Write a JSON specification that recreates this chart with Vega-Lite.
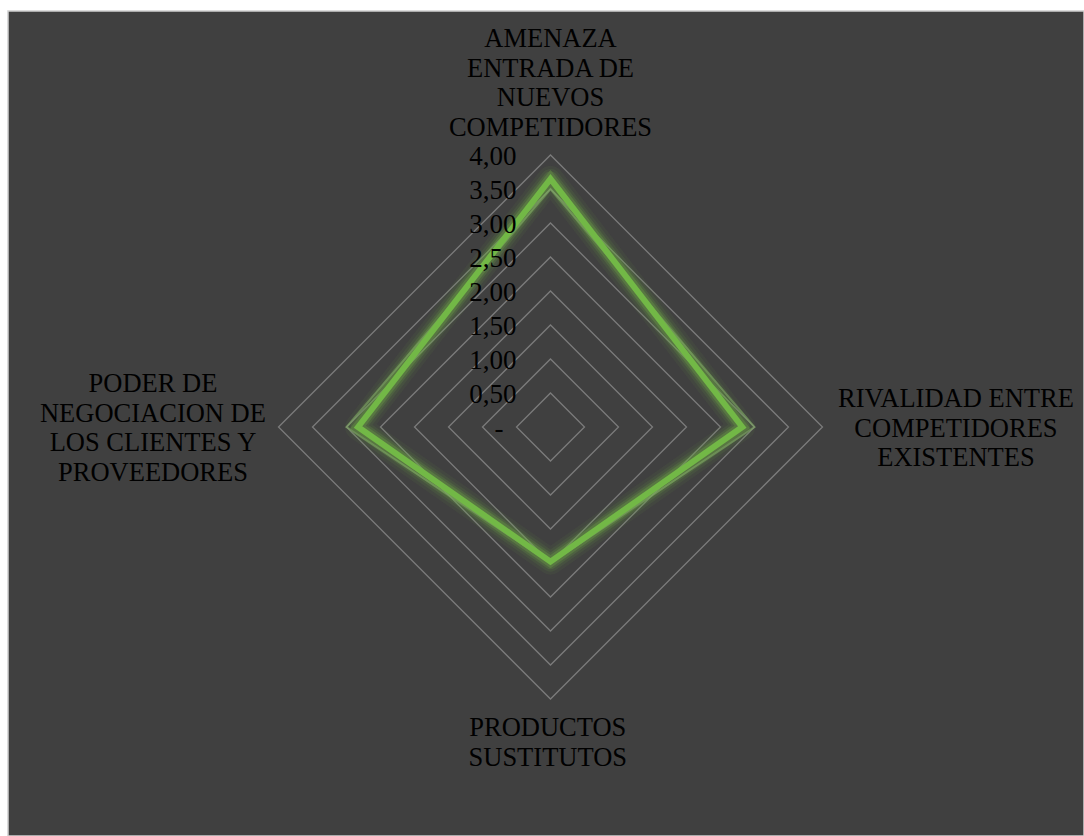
{
  "$schema": "https://vega.github.io/schema/vega-lite/v6.json",
  "width": 1076,
  "height": 825,
  "autosize": "none",
  "padding": {"left": 8, "top": 11, "right": 0, "bottom": 0},
  "background": "#ffffff",
  "config": {"view": {"fill": "#404040", "stroke": "#d0d0d0", "strokeWidth": 1.5}},
  "datasets": {
    "scores": [
      {"axis": "AMENAZA\nENTRADA DE\nNUEVOS\nCOMPETIDORES", "order": 0, "series": "A", "value": 3.65},
      {"axis": "RIVALIDAD ENTRE\nCOMPETIDORES\nEXISTENTES", "order": 1, "series": "A", "value": 2.82},
      {"axis": "PRODUCTOS\nSUSTITUTOS", "order": 2, "series": "A", "value": 1.98},
      {"axis": "PODER DE\nNEGOCIACION DE\nLOS CLIENTES Y\nPROVEEDORES", "order": 3, "series": "A", "value": 2.83},
      {"axis": "AMENAZA\nENTRADA DE\nNUEVOS\nCOMPETIDORES", "order": 0, "series": "B", "value": 3.5},
      {"axis": "RIVALIDAD ENTRE\nCOMPETIDORES\nEXISTENTES", "order": 1, "series": "B", "value": 3.0},
      {"axis": "PRODUCTOS\nSUSTITUTOS", "order": 2, "series": "B", "value": 2.0},
      {"axis": "PODER DE\nNEGOCIACION DE\nLOS CLIENTES Y\nPROVEEDORES", "order": 3, "series": "B", "value": 3.0}
    ],
    "levels": [
      {"level": 0, "corners": [0, 1, 2, 3]},
      {"level": 0.5, "corners": [0, 1, 2, 3]},
      {"level": 1, "corners": [0, 1, 2, 3]},
      {"level": 1.5, "corners": [0, 1, 2, 3]},
      {"level": 2, "corners": [0, 1, 2, 3]},
      {"level": 2.5, "corners": [0, 1, 2, 3]},
      {"level": 3, "corners": [0, 1, 2, 3]},
      {"level": 3.5, "corners": [0, 1, 2, 3]},
      {"level": 4, "corners": [0, 1, 2, 3]}
    ]
  },
  "layer": [
    {
      "data": {"name": "levels"},
      "transform": [
        {"filter": "datum.level > 0"},
        {"flatten": ["corners"], "as": ["k"]},
        {"calculate": "datum.level * sin(datum.k * PI / 2)", "as": "px"},
        {"calculate": "datum.level * cos(datum.k * PI / 2)", "as": "py"}
      ],
      "mark": {"type": "line", "interpolate": "linear-closed", "stroke": "#7b7b7b", "strokeWidth": 1.3},
      "encoding": {
        "x": {"field": "px", "type": "quantitative", "scale": {"domain": [-7.978, 7.846], "nice": false, "zero": false}, "axis": null},
        "y": {"field": "py", "type": "quantitative", "scale": {"domain": [-6.015, 6.118], "nice": false, "zero": false}, "axis": null},
        "detail": {"field": "level"},
        "order": {"field": "k"}
      }
    },
    {
      "data": {"name": "scores"},
      "transform": [
        {"filter": "datum.series == 'A'"},
        {"calculate": "datum.value * sin(datum.order * PI / 2)", "as": "px"},
        {"calculate": "datum.value * cos(datum.order * PI / 2)", "as": "py"}
      ],
      "layer": [
        {"mark": {"type": "line", "interpolate": "linear-closed", "stroke": "#70ad47", "strokeOpacity": 0.07, "strokeWidth": 26, "strokeJoin": "round"}},
        {"mark": {"type": "line", "interpolate": "linear-closed", "stroke": "#70ad47", "strokeOpacity": 0.1, "strokeWidth": 20, "strokeJoin": "round"}},
        {"mark": {"type": "line", "interpolate": "linear-closed", "stroke": "#70ad47", "strokeOpacity": 0.18, "strokeWidth": 15, "strokeJoin": "round"}},
        {"mark": {"type": "line", "interpolate": "linear-closed", "stroke": "#70ad47", "strokeOpacity": 0.3, "strokeWidth": 11, "strokeJoin": "miter"}}
      ],
      "encoding": {
        "x": {"field": "px", "type": "quantitative"},
        "y": {"field": "py", "type": "quantitative"},
        "order": {"field": "order"}
      }
    },
    {
      "data": {"name": "scores"},
      "transform": [
        {"filter": "datum.series == 'B'"},
        {"calculate": "datum.value * sin(datum.order * PI / 2)", "as": "px"},
        {"calculate": "datum.value * cos(datum.order * PI / 2)", "as": "py"}
      ],
      "mark": {"type": "line", "interpolate": "linear-closed", "stroke": "#80a865", "strokeOpacity": 0.6, "strokeWidth": 2},
      "encoding": {
        "x": {"field": "px", "type": "quantitative"},
        "y": {"field": "py", "type": "quantitative"},
        "order": {"field": "order"}
      }
    },
    {
      "data": {"name": "scores"},
      "transform": [
        {"filter": "datum.series == 'A'"},
        {"calculate": "datum.value * sin(datum.order * PI / 2)", "as": "px"},
        {"calculate": "datum.value * cos(datum.order * PI / 2)", "as": "py"}
      ],
      "mark": {"type": "line", "interpolate": "linear-closed", "stroke": "#72b846", "strokeWidth": 6, "strokeJoin": "miter"},
      "encoding": {
        "x": {"field": "px", "type": "quantitative"},
        "y": {"field": "py", "type": "quantitative"},
        "order": {"field": "order"}
      }
    },
    {
      "data": {"name": "levels"},
      "transform": [
        {"filter": "datum.level > 0"},
        {"calculate": "replace(format(datum.level, '.2f'), '.', ',')", "as": "lab"},
        {"calculate": "0", "as": "px"}
      ],
      "mark": {"type": "text", "font": "Liberation Serif", "fontSize": 27, "color": "#000000", "align": "right", "baseline": "middle", "dx": -34, "dy": 2},
      "encoding": {
        "x": {"field": "px", "type": "quantitative"},
        "y": {"field": "level", "type": "quantitative"},
        "text": {"field": "lab"}
      }
    },
    {
      "data": {"name": "levels"},
      "transform": [
        {"filter": "datum.level == 0"},
        {"calculate": "'-'", "as": "lab"},
        {"calculate": "0", "as": "px"}
      ],
      "mark": {"type": "text", "font": "Liberation Serif", "fontSize": 27, "color": "#000000", "align": "right", "baseline": "middle", "dx": -47, "dy": 2},
      "encoding": {
        "x": {"field": "px", "type": "quantitative"},
        "y": {"field": "level", "type": "quantitative"},
        "text": {"field": "lab"}
      }
    },
    {
      "data": {"name": "scores"},
      "transform": [
        {"filter": "datum.series == 'A'"},
        {"calculate": "[0, 5.963, -0.04, -5.846][datum.order]", "as": "px"},
        {"calculate": "[5.72, 0.426, -4.412, 0.647][datum.order]", "as": "py"}
      ],
      "mark": {"type": "text", "font": "Liberation Serif", "fontSize": 26.5, "color": "#000000", "align": "center", "baseline": "middle", "lineBreak": "\n", "lineHeight": 29.5, "dy": 1},
      "encoding": {
        "x": {"field": "px", "type": "quantitative"},
        "y": {"field": "py", "type": "quantitative"},
        "text": {"field": "axis"}
      }
    }
  ]
}
